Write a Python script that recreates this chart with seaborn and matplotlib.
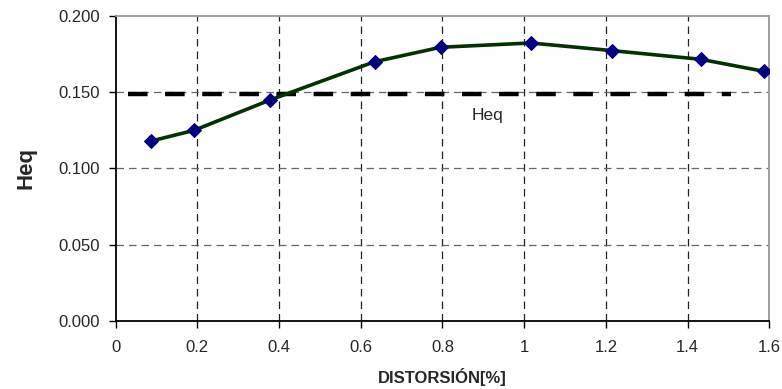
import matplotlib
matplotlib.use("Agg")
import matplotlib.pyplot as plt
import seaborn as sns
import pandas as pd

# Data
distorsion = [0.087, 0.192, 0.379, 0.634, 0.796, 1.016, 1.215, 1.432, 1.587]
heq_values = [0.118, 0.125, 0.145, 0.170, 0.1795, 0.1823, 0.1773, 0.1716, 0.1637]
heq_ref_x = [0.031, 1.505]
heq_ref_y = [0.149, 0.149]
x_ticks = [0, 0.2, 0.4, 0.6, 0.8, 1.0, 1.2, 1.4, 1.6]
x_tick_labels = ["0", "0.2", "0.4", "0.6", "0.8", "1", "1.2", "1.4", "1.6"]
y_ticks = [0.0, 0.05, 0.10, 0.15, 0.20]
y_tick_labels = ["0.000", "0.050", "0.100", "0.150", "0.200"]

sns.set_style("white")
plt.rcParams["font.family"] = ["Liberation Sans", "DejaVu Sans"]

df = pd.DataFrame({"x": distorsion, "y": heq_values})
ref = pd.DataFrame({"x": heq_ref_x, "y": heq_ref_y})

fig, ax = plt.subplots(figsize=(7.82, 3.89), dpi=100)
fig.subplots_adjust(left=0.1477, right=0.9838, top=0.9589, bottom=0.1748)

ax.set_xlim(0, 1.6)
ax.set_ylim(0, 0.2)

# grid
for xv in x_ticks[1:-1]:
    ax.axvline(xv, color="#222222", lw=0.9, dashes=(6, 4), zorder=1)
for yv in y_ticks[1:-1]:
    ax.axhline(yv, color="#666666", lw=0.9, dashes=(6, 4), zorder=1)

sns.lineplot(data=ref, x="x", y="y", ax=ax, color="black", lw=3.2,
             dashes=False, zorder=2)
ax.lines[-1].set_dashes((4.4, 3.95))

sns.lineplot(data=df, x="x", y="y", ax=ax, color="#003300", lw=2.6,
             marker="D", markersize=7, markerfacecolor="#000080",
             markeredgecolor="#000080", zorder=3)

ax.text(0.872, 0.135, "Heq", fontsize=12.5, ha="left", va="center")

ax.set_xticks(x_ticks)
ax.set_xticklabels(x_tick_labels)
ax.set_yticks(y_ticks)
ax.set_yticklabels(y_tick_labels)
ax.tick_params(axis="both", direction="out", length=5, width=1, color="black",
               labelsize=12, bottom=True, left=True)
ax.tick_params(axis="x", pad=9)
ax.tick_params(axis="y", pad=6)

ax.set_xlabel("DISTORSIÓN[%]", fontsize=12, fontweight="bold", labelpad=9)
ax.set_ylabel("Heq", fontsize=16, fontweight="bold", labelpad=16)

for s in ["left", "bottom"]:
    ax.spines[s].set_color("black")
    ax.spines[s].set_linewidth(1.3)
for s in ["top", "right"]:
    ax.spines[s].set_color("#999999")
    ax.spines[s].set_linewidth(1.3)

fig.savefig("out.png", dpi=100)
